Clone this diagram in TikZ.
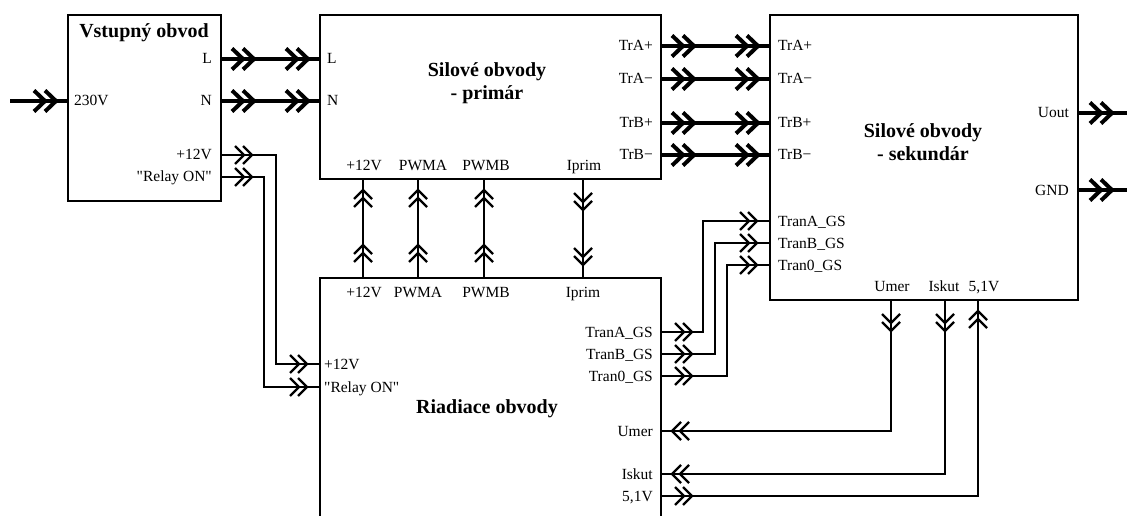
\documentclass[tikz,border=0pt]{standalone}
\usepackage{fontspec}
\setmainfont{Liberation Serif}[Ligatures=TeXOff]
\usetikzlibrary{decorations.markings}
\newcommand\chT{\draw[line width=4pt,line cap=butt,line join=miter] (-11pt,10.5pt)--(0pt,0pt)--(-11pt,-10.5pt) (-22pt,10.5pt)--(-11pt,0pt)--(-22pt,-10.5pt);}
\newcommand\chS{\draw[line width=2.2pt,line cap=butt,line join=miter] (-9pt,9pt)--(0pt,0pt)--(-9pt,-9pt) (-17pt,9pt)--(-8pt,0pt)--(-17pt,-9pt);}
\begin{document}
\begin{tikzpicture}[x=1pt,y=-1pt,
  box/.style={draw,line width=2.4pt,inner sep=0pt,anchor=north west},
  lab/.style={inner sep=0pt,font=\fontsize{15.5}{17}\selectfont,text height=10pt,text depth=0pt},
  ttl/.style={inner sep=0pt,font=\fontsize{20}{23}\selectfont\bfseries,align=center},
  pwl/.style={line width=4pt,postaction={decorate},decoration={markings,mark=at position 34pt with {\chT},mark=at position -11pt with {\chT}}},
  pwin/.style={line width=4pt,postaction={decorate},decoration={markings,mark=at position -11pt with {\chT}}},
  pwout/.style={line width=4pt,postaction={decorate},decoration={markings,mark=at position 35pt with {\chT}}},
  sgl/.style={line width=2.2pt,postaction={decorate},decoration={markings,mark=at position 32pt with {\chS},mark=at position -12pt with {\chS}}}
]
\useasboundingbox (0,0) rectangle (1127,516);
\clip (0,0) rectangle (1127,516);
\fill[white] (0,0) rectangle (1127,516);
% boxes
\node[box,minimum width=153pt,minimum height=186pt] (vst) at (67,14) {};
\node[box,minimum width=341pt,minimum height=164pt] (prim) at (319,14) {};
\node[box,minimum width=308pt,minimum height=285pt] (sek) at (769,14) {};
\node[box,minimum width=341pt,minimum height=270pt] (riad) at (319,277) {};
% titles
\node[ttl] (tv) at (144,33) {Vstupný obvod};
\node[ttl] (tp) at (487,83) {Silové obvody\\- primár};
\node[ttl] (ts) at (923,142) {Silové obvody\\- sekundár};
\node[ttl] (tr) at (487,409) {Riadiace obvody};
% ports
\coordinate (src) at (10,101);
\coordinate (in230) at (67,101);
\coordinate (vL) at (220,59);
\coordinate (vN) at (220,101);
\coordinate (v12) at (220,155);
\coordinate (vRel) at (220,177);
\coordinate (pL) at (319,59);
\coordinate (pN) at (319,101);
\coordinate (pTAp) at (660,46);
\coordinate (pTAm) at (660,79);
\coordinate (pTBp) at (660,123);
\coordinate (pTBm) at (660,155);
\coordinate (p12) at (363,178);
\coordinate (pPA) at (418,178);
\coordinate (pPB) at (484,178);
\coordinate (pIp) at (583,178);
\coordinate (sTAp) at (769,46);
\coordinate (sTAm) at (769,79);
\coordinate (sTBp) at (769,123);
\coordinate (sTBm) at (769,155);
\coordinate (sTA) at (769,221);
\coordinate (sTB) at (769,243);
\coordinate (sT0) at (769,265);
\coordinate (sUout) at (1077,113);
\coordinate (sGND) at (1077,190);
\coordinate (oU) at (1132,113);
\coordinate (oG) at (1132,190);
\coordinate (sUm) at (891,299);
\coordinate (sIs) at (945,299);
\coordinate (s51) at (978,299);
\coordinate (r12t) at (363,277);
\coordinate (rPA) at (418,277);
\coordinate (rPB) at (484,277);
\coordinate (rIp) at (583,277);
\coordinate (r12) at (319,364);
\coordinate (rRel) at (319,387);
\coordinate (rTA) at (660,332);
\coordinate (rTB) at (660,354);
\coordinate (rT0) at (660,376);
\coordinate (rUm) at (660,431);
\coordinate (rIs) at (660,474);
\coordinate (r51) at (660,496);
% power connectors
\draw[pwin] (src) -- (in230);
\draw[pwl] (vL) -- (pL);
\draw[pwl] (vN) -- (pN);
\draw[pwl] (pTAp) -- (sTAp);
\draw[pwl] (pTAm) -- (sTAm);
\draw[pwl] (pTBp) -- (sTBp);
\draw[pwl] (pTBm) -- (sTBm);
\draw[pwout] (sUout) -- (oU);
\draw[pwout] (sGND) -- (oG);
% signal connectors
\draw[sgl] (v12) -- ++(56,0) |- (r12);
\draw[sgl] (vRel) -- ++(44,0) |- (rRel);
\draw[sgl] (r12t) -- (p12);
\draw[sgl] (rPA) -- (pPA);
\draw[sgl] (rPB) -- (pPB);
\draw[sgl] (pIp) -- (rIp);
\draw[sgl] (rTA) -- ++(43,0) |- (sTA);
\draw[sgl] (rTB) -- ++(55,0) |- (sTB);
\draw[sgl] (rT0) -- ++(67,0) |- (sT0);
\draw[sgl] (sUm) |- (rUm);
\draw[sgl] (sIs) |- (rIs);
\draw[sgl] (r51) -| (s51);
% labels: Vstupny
\node[lab,anchor=west] (l230) at (74,101) {230V};
\node[lab,anchor=east] (lvL) at (212,59) {L};
\node[lab,anchor=east] (lvN) at (212,101) {N};
\node[lab,anchor=east] (lv12) at (212,155) {+12V};
\node[lab,anchor=east] (lvR) at (212,177) {"Relay ON"};
% primar
\node[lab,anchor=west] (lpL) at (327,59) {L};
\node[lab,anchor=west] (lpN) at (327,101) {N};
\node[lab,anchor=east] (lpA1) at (653,46) {TrA+};
\node[lab,anchor=east] (lpA2) at (653,79) {TrA−};
\node[lab,anchor=east] (lpB1) at (653,123) {TrB+};
\node[lab,anchor=east] (lpB2) at (653,155) {TrB−};
\node[lab] (lp12) at (364,166) {+12V};
\node[lab] (lpPA) at (423,166) {PWMA};
\node[lab] (lpPB) at (486,166) {PWMB};
\node[lab] (lpIp) at (584,166) {Iprim};
% sekundar
\node[lab,anchor=west] (lsA1) at (778,46) {TrA+};
\node[lab,anchor=west] (lsA2) at (778,79) {TrA−};
\node[lab,anchor=west] (lsB1) at (778,123) {TrB+};
\node[lab,anchor=west] (lsB2) at (778,155) {TrB−};
\node[lab,anchor=west] (lsTA) at (778,221) {TranA\_GS};
\node[lab,anchor=west] (lsTB) at (778,243) {TranB\_GS};
\node[lab,anchor=west] (lsT0) at (778,265) {Tran0\_GS};
\node[lab,anchor=east] (lsU) at (1069,113) {Uout};
\node[lab,anchor=east] (lsG) at (1069,190) {GND};
\node[lab] (lsUm) at (892,286) {Umer};
\node[lab] (lsIs) at (944,286) {Iskut};
\node[lab] (ls51) at (984,286) {5,1V};
% riadiace
\node[lab] (lr12t) at (364,292) {+12V};
\node[lab] (lrPA) at (418,292) {PWMA};
\node[lab] (lrPB) at (486,292) {PWMB};
\node[lab] (lrIp) at (583,292) {Iprim};
\node[lab,anchor=west] (lr12) at (324,364) {+12V};
\node[lab,anchor=west] (lrR) at (324,387) {"Relay ON"};
\node[lab,anchor=east] (lrTA) at (653,332) {TranA\_GS};
\node[lab,anchor=east] (lrTB) at (653,354) {TranB\_GS};
\node[lab,anchor=east] (lrT0) at (653,376) {Tran0\_GS};
\node[lab,anchor=east] (lrUm) at (653,431) {Umer};
\node[lab,anchor=east] (lrIs) at (653,474) {Iskut};
\node[lab,anchor=east] (lr51) at (653,496) {5,1V};
\end{tikzpicture}
\end{document}
